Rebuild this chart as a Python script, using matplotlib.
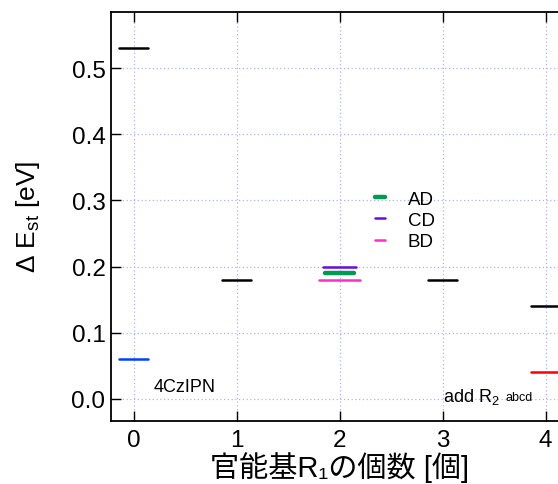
import matplotlib
matplotlib.use("Agg")
import matplotlib.pyplot as plt

plt.rcParams["font.family"] = ["Liberation Sans", "Noto Sans CJK JP", "DejaVu Sans"]
plt.rcParams["mathtext.default"] = "regular"

# --- data ---
base_x = [0, 1, 3, 4]
base_y = [0.53, 0.18, 0.18, 0.14]

ref_x = [0]
ref_y = [0.06]

add_x = [4]
add_y = [0.04]

pair_labels = ["AD", "CD", "BD"]
pair_x = [2, 2, 2]
pair_y = [0.19, 0.20, 0.18]

x_ticks = [0, 1, 2, 3, 4]
y_ticks = [0.0, 0.1, 0.2, 0.3, 0.4, 0.5]

# --- style ---
half_w = 0.14
pair_half_w = [0.14, 0.16, 0.20]
pair_colors = ["#009a50", "#6a0ae0", "#ff2ccc"]
pair_lw = [3.2, 1.8, 1.8]


def seg(ax, x, y, hw, **kw):
    ax.plot([x - hw, x + hw], [y, y], solid_capstyle="round", **kw)


fig = plt.figure(figsize=(5.58, 4.85), dpi=100)
ax = fig.add_axes([0.199, 0.1305, 0.8196, 0.8427])

for x, y in zip(base_x, base_y):
    seg(ax, x, y, half_w, color="black", lw=1.8)
for x, y in zip(ref_x, ref_y):
    seg(ax, x, y, half_w, color="#0040ff", lw=1.8)
for x, y in zip(add_x, add_y):
    seg(ax, x, y, half_w, color="#ff0000", lw=1.8)

handles = {}
for lab, x, y, hw, c, lw in zip(pair_labels, pair_x, pair_y, pair_half_w,
                                 pair_colors, pair_lw):
    (h,) = ax.plot([x - hw, x + hw], [y, y], color=c, lw=lw,
                   solid_capstyle="round", label=lab)
    handles[lab] = h

ax.legend([handles[k] for k in pair_labels], pair_labels,
          loc="upper left", bbox_to_anchor=(0.548, 0.595),
          frameon=False, fontsize=13.5, handlelength=0.55,
          handletextpad=1.2, labelspacing=0.22, borderpad=0.2)

ax.text(0.19, 0.012, "4CzIPN", fontsize=13, va="baseline", ha="left")
ax.text(3.0, -0.003, "add R$_2$", fontsize=13, va="baseline", ha="left")
ax.annotate("abcd", xy=(3.0, -0.003), xytext=(45, 0.5),
            textcoords="offset points", fontsize=9,
            va="baseline", ha="left")

ax.set_xlim(-0.22, 4.22)
ax.set_ylim(-0.033, 0.585)
ax.set_xticks(x_ticks)
ax.set_yticks(y_ticks)
ax.set_yticklabels([f"{v:.1f}" for v in y_ticks])

ax.grid(True, color="#b0b0ff", linestyle=(0, (1, 2)), linewidth=0.9)
ax.set_axisbelow(True)
ax.tick_params(direction="in", length=7, width=1.0, top=True, right=True,
               labelsize=17.5, colors="black")
ax.tick_params(axis="x", pad=6)
ax.tick_params(axis="y", pad=4)
for s in ax.spines.values():
    s.set_linewidth(1.3)

ax.set_ylabel("Δ E$_{st}$ [eV]", fontsize=19, va="center")
ax.yaxis.set_label_coords(-0.182, 0.5)
ax.set_xlabel("官能基R₁の個数 [個]", fontsize=21, va="center")
ax.xaxis.set_label_coords(0.5, -0.111)

fig.savefig("out.png", dpi=100)
